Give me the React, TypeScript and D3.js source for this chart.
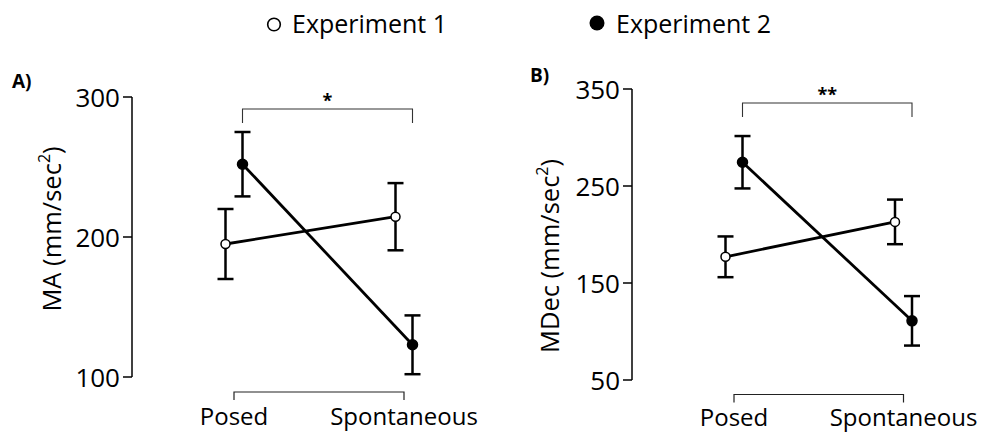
import React from "react";
import * as d3 from "d3";

const categories = ["Posed", "Spontaneous"];
const seriesNames = ["Experiment 1", "Experiment 2"];

// Panel A: MA (mm/sec²)
const maExp1 = [195, 214.5];
const maExp1Err = [25, 24];
const maExp2 = [252, 123];
const maExp2Err = [23, 21];
const maTicks = [100, 200, 300];

// Panel B: MDec (mm/sec²)
const mdecExp1 = [177, 213];
const mdecExp1Err = [21, 23];
const mdecExp2 = [274.5, 111];
const mdecExp2Err = [27, 25.5];
const mdecTicks = [50, 150, 250, 350];

const FONT = "'Open Sans', sans-serif";

type PanelProps = {
  label: string;
  yLabel: string;
  sig: string;
  exp1: number[];
  exp1Err: number[];
  exp2: number[];
  exp2Err: number[];
  ticks: number[];
  axisX: number;
  yRange: [number, number];
  xRange: [number, number];
  offset: number;
  sigY: number;
  panelLabelPos: [number, number];
  yLabelPos: [number, number];
  catBracketY: number;
  catLabelY: number;
};

function Panel(p: PanelProps) {
  const y = d3
    .scaleLinear()
    .domain([p.ticks[0], p.ticks[p.ticks.length - 1]])
    .range(p.yRange);
  const x = d3.scalePoint<string>().domain(categories).range(p.xRange);
  const xs1 = categories.map((c) => (x(c) as number) - p.offset);
  const xs2 = categories.map((c) => (x(c) as number) + p.offset);
  const line = d3
    .line<[number, number]>()
    .x((d) => d[0])
    .y((d) => d[1]);
  const cap = 8;
  const series = [
    { xs: xs1, vals: p.exp1, errs: p.exp1Err, fill: "#fff", r: 4.5 },
    { xs: xs2, vals: p.exp2, errs: p.exp2Err, fill: "#000", r: 5 },
  ];
  const x0 = x(categories[0]) as number;
  const x1 = x(categories[1]) as number;
  return (
    <g>
      <text
        x={p.panelLabelPos[0]}
        y={p.panelLabelPos[1]}
        fontFamily={FONT}
        fontWeight="bold"
        fontSize={19}
      >
        {p.label}
      </text>
      {/* y axis */}
      <line
        x1={p.axisX}
        x2={p.axisX}
        y1={y(p.ticks[0])}
        y2={y(p.ticks[p.ticks.length - 1])}
        stroke="#000"
        strokeWidth={1.5}
      />
      {p.ticks.map((t) => (
        <g key={t}>
          <line
            x1={p.axisX - 9}
            x2={p.axisX}
            y1={y(t)}
            y2={y(t)}
            stroke="#000"
            strokeWidth={1.5}
          />
          <text
            x={p.axisX - 12}
            y={y(t) + 9.5}
            textAnchor="end"
            fontFamily={FONT}
            fontSize={26}
          >
            {t}
          </text>
        </g>
      ))}
      <text
        transform={`translate(${p.yLabelPos[0]},${p.yLabelPos[1]}) rotate(-90)`}
        textAnchor="middle"
        fontFamily={FONT}
        fontSize={25.5}
        dy="0.35em"
      >
        {p.yLabel} (mm/sec<tspan baselineShift="super" fontSize={16}>2</tspan>)
      </text>
      {/* category bracket */}
      <path
        d={`M${x0},${p.catBracketY + 8}V${p.catBracketY}H${x1}V${p.catBracketY + 8}`}
        fill="none"
        stroke="#222"
        strokeWidth={1.2}
      />
      {categories.map((c) => (
        <text
          key={c}
          x={x(c) as number}
          y={p.catLabelY}
          textAnchor="middle"
          fontFamily={FONT}
          fontSize={24}
        >
          {c}
        </text>
      ))}
      {/* significance bracket */}
      <path
        d={`M${xs2[0]},${p.sigY + 14}V${p.sigY}H${xs2[1]}V${p.sigY + 14}`}
        fill="none"
        stroke="#333"
        strokeWidth={1.1}
      />
      <text
        x={(xs2[0] + xs2[1]) / 2}
        y={p.sigY - 2}
        textAnchor="middle"
        fontFamily={FONT}
        fontWeight="bold"
        fontSize={18}
      >
        {p.sig}
      </text>
      {/* series */}
      {series.map((s, si) => (
        <g key={si}>
          {s.xs.map((xx, i) => (
            <g key={i}>
              <line
                x1={xx}
                x2={xx}
                y1={y(s.vals[i] - s.errs[i])}
                y2={y(s.vals[i] + s.errs[i])}
                stroke="#000"
                strokeWidth={2.5}
              />
              <line
                x1={xx - cap}
                x2={xx + cap}
                y1={y(s.vals[i] - s.errs[i])}
                y2={y(s.vals[i] - s.errs[i])}
                stroke="#000"
                strokeWidth={2.5}
              />
              <line
                x1={xx - cap}
                x2={xx + cap}
                y1={y(s.vals[i] + s.errs[i])}
                y2={y(s.vals[i] + s.errs[i])}
                stroke="#000"
                strokeWidth={2.5}
              />
            </g>
          ))}
        </g>
      ))}
      {series.map((s, si) => (
        <path
          key={"l" + si}
          d={line(s.xs.map((xx, i) => [xx, y(s.vals[i])] as [number, number])) || ""}
          fill="none"
          stroke="#000"
          strokeWidth={2.8}
        />
      ))}
      {series.map((s, si) =>
        s.xs.map((xx, i) => (
          <circle
            key={"c" + si + i}
            cx={xx}
            cy={y(s.vals[i])}
            r={s.r}
            fill={s.fill}
            stroke="#000"
            strokeWidth={1.5}
          />
        ))
      )}
    </g>
  );
}

export default function App() {
  return (
    <svg
      width={982}
      height={432}
      style={{ position: "absolute", left: 0, top: 0, background: "#fff" }}
    >
      <rect width={982} height={432} fill="#fff" />
      {/* legend */}
      <circle cx={274} cy={24.5} r={6.3} fill="#fff" stroke="#000" strokeWidth={1.6} />
      <text x={292} y={33} fontFamily={FONT} fontSize={25}>
        {seriesNames[0]}
      </text>
      <circle cx={597} cy={23} r={7.5} fill="#000" />
      <text x={616} y={33} fontFamily={FONT} fontSize={25}>
        {seriesNames[1]}
      </text>
      <Panel
        label="A)"
        yLabel="MA"
        sig="*"
        exp1={maExp1}
        exp1Err={maExp1Err}
        exp2={maExp2}
        exp2Err={maExp2Err}
        ticks={maTicks}
        axisX={132}
        yRange={[377, 97]}
        xRange={[234, 404]}
        offset={8.5}
        sigY={109}
        panelLabelPos={[12, 88]}
        yLabelPos={[52, 229]}
        catBracketY={392}
        catLabelY={425}
      />
      <Panel
        label="B)"
        yLabel="MDec"
        sig="**"
        exp1={mdecExp1}
        exp1Err={mdecExp1Err}
        exp2={mdecExp2}
        exp2Err={mdecExp2Err}
        ticks={mdecTicks}
        axisX={632}
        yRange={[380, 89]}
        xRange={[734, 903.5]}
        offset={8.5}
        sigY={103}
        panelLabelPos={[530, 82]}
        yLabelPos={[550, 256]}
        catBracketY={394.5}
        catLabelY={426}
      />
    </svg>
  );
}
